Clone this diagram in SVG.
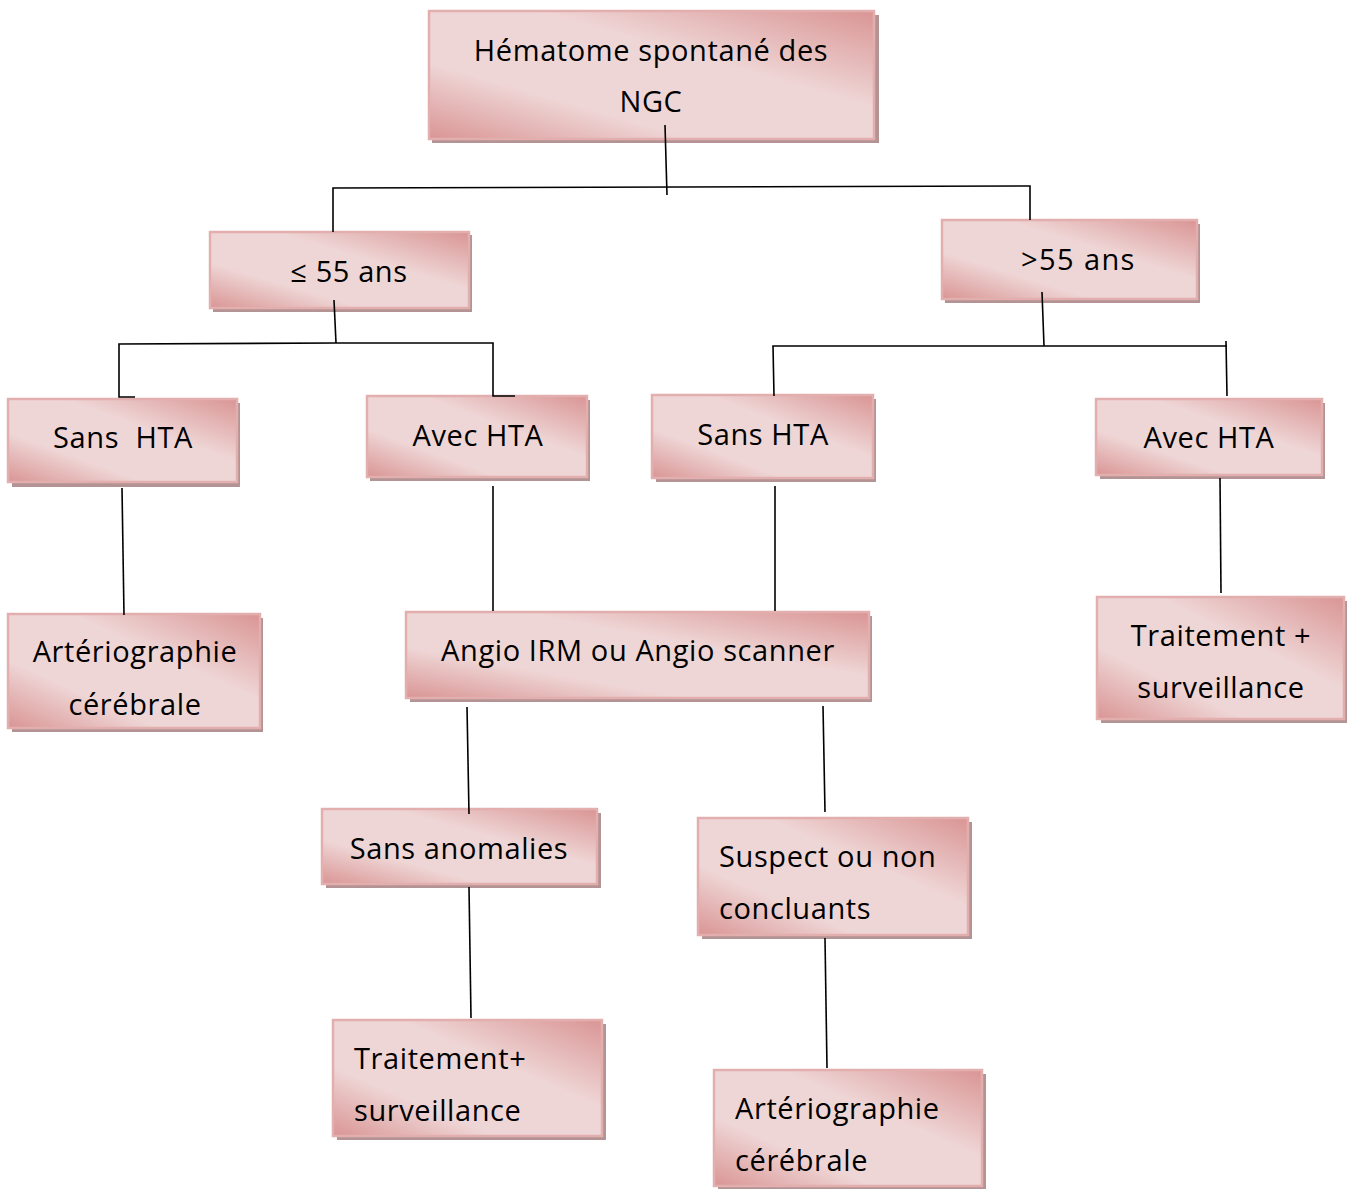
<svg xmlns="http://www.w3.org/2000/svg" width="1348" height="1189" viewBox="0 0 1348 1189">
<defs>
<linearGradient id="g" x1="0" y1="1" x2="1" y2="0">
<stop offset="0" stop-color="#d99594"/>
<stop offset="0.3" stop-color="#efd6d6"/>
<stop offset="0.62" stop-color="#efd6d6"/>
<stop offset="1" stop-color="#d99594"/>
</linearGradient>
</defs>
<style>
.sh{fill:#b39393}
.bx{fill:url(#g);stroke:#e2aeae;stroke-width:2.5}
.t{font-family:"Open Sans","Liberation Sans",sans-serif;font-size:29px;fill:#000;letter-spacing:0.6px}
.c{text-anchor:middle}
.pre{white-space:pre}
.ln{fill:none;stroke:#000;stroke-width:1.6}
</style>
<rect width="1348" height="1189" fill="#fff"/>

<g id="n-root">
<rect class="sh" x="432" y="15" width="447" height="128"/>
<rect class="bx" x="429" y="11" width="445" height="128"/>
<text class="t c" x="651" y="61">Hématome spontané des</text>
<text class="t c" x="651" y="112">NGC</text>
</g>

<g id="n-le55">
<rect class="sh" x="213" y="235" width="259" height="77"/>
<rect class="bx" x="210" y="232" width="259" height="76"/>
<text class="t c pre" x="349" y="282" xml:space="preserve">≤ 55 ans</text>
</g>

<g id="n-gt55">
<rect class="sh" x="945" y="224" width="255" height="79"/>
<rect class="bx" x="942" y="220" width="255" height="79"/>
<text class="t" x="1021" y="270" style="letter-spacing:1.4px">&gt;55 ans</text>
</g>

<g id="n-sans1">
<rect class="sh" x="12" y="403" width="228" height="84"/>
<rect class="bx" x="8" y="399" width="229" height="83"/>
<text class="t c pre" x="123" y="448" xml:space="preserve">Sans  HTA</text>
</g>

<g id="n-avec1">
<rect class="sh" x="370" y="400" width="220" height="81"/>
<rect class="bx" x="367" y="396" width="220" height="81"/>
<text class="t c" x="478" y="446">Avec HTA</text>
</g>

<g id="n-sans2">
<rect class="sh" x="656" y="399" width="220" height="83"/>
<rect class="bx" x="652" y="395" width="221" height="83"/>
<text class="t c" x="763" y="445">Sans HTA</text>
</g>

<g id="n-avec2">
<rect class="sh" x="1100" y="403" width="225" height="76"/>
<rect class="bx" x="1096" y="399" width="226" height="76"/>
<text class="t c" x="1209" y="448">Avec HTA</text>
</g>

<g id="n-arterio1">
<rect class="sh" x="12" y="618" width="251" height="114"/>
<rect class="bx" x="8" y="614" width="252" height="114"/>
<text class="t c" x="135" y="662">Artériographie</text>
<text class="t c" x="135" y="715">cérébrale</text>
</g>

<g id="n-angio">
<rect class="sh" x="410" y="616" width="462" height="86"/>
<rect class="bx" x="406" y="612" width="463" height="86"/>
<text class="t c" x="638" y="661">Angio IRM ou Angio scanner</text>
</g>

<g id="n-trait1">
<rect class="sh" x="1101" y="601" width="246" height="122"/>
<rect class="bx" x="1097" y="597" width="247" height="122"/>
<text class="t c" x="1221" y="646">Traitement +</text>
<text class="t c" x="1221" y="698">surveillance</text>
</g>

<g id="n-sansanom">
<rect class="sh" x="326" y="813" width="275" height="75"/>
<rect class="bx" x="322" y="809" width="275" height="75"/>
<text class="t c" x="459" y="859">Sans anomalies</text>
</g>

<g id="n-suspect">
<rect class="sh" x="702" y="822" width="270" height="117"/>
<rect class="bx" x="698" y="818" width="270" height="117"/>
<text class="t" x="719" y="867">Suspect ou non</text>
<text class="t" x="719" y="919">concluants</text>
</g>

<g id="n-trait2">
<rect class="sh" x="337" y="1024" width="269" height="116"/>
<rect class="bx" x="333" y="1020" width="269" height="116"/>
<text class="t" x="354" y="1069">Traitement+</text>
<text class="t" x="354" y="1121">surveillance</text>
</g>

<g id="n-arterio2">
<rect class="sh" x="718" y="1074" width="268" height="116"/>
<rect class="bx" x="714" y="1070" width="268" height="116"/>
<text class="t" x="735" y="1119">Artériographie</text>
<text class="t" x="735" y="1171">cérébrale</text>
</g>

<g id="connectors">
<path class="ln" d="M665,125 L667,195"/>
<path class="ln" d="M333,232 V188 L1030,186 V220"/>
<path class="ln" d="M334,300 L336,343"/>
<path class="ln" d="M135,397 H119 V344 L336,343 H493 V396 H515"/>
<path class="ln" d="M1042,292 L1044,346"/>
<path class="ln" d="M774,396 L773,346 H1227"/>
<path class="ln" d="M1226,341 L1227,396"/>
<path class="ln" d="M122,488 L124,615"/>
<path class="ln" d="M493,486 V611"/>
<path class="ln" d="M775,486 V611"/>
<path class="ln" d="M1220,478 L1221,593"/>
<path class="ln" d="M467,707 L469,814"/>
<path class="ln" d="M823,706 L825,812"/>
<path class="ln" d="M469,887 L471,1018"/>
<path class="ln" d="M825,938 L827,1068"/>
</g>
</svg>
